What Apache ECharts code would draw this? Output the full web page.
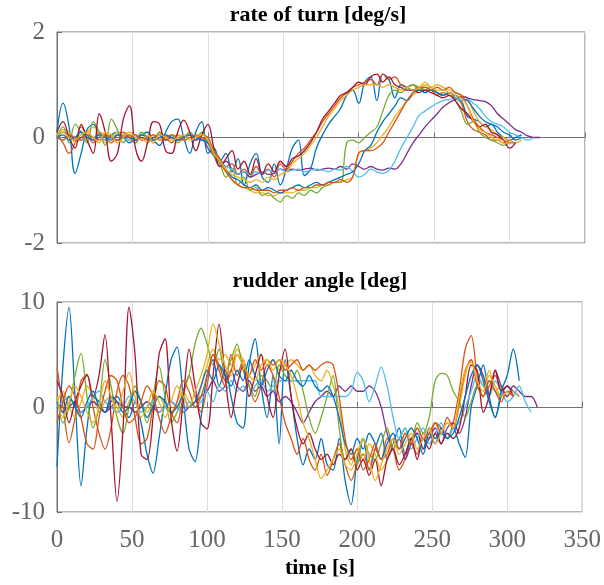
<!DOCTYPE html>
<html>
<head>
<meta charset="utf-8">
<script src="https://cdn.jsdelivr.net/npm/echarts@6/dist/echarts.min.js"></script>
<style>html,body{margin:0;padding:0;background:#fff;}#c{width:604px;height:585px;}</style>
</head>
<body>
<div id="c"></div>
<script>
// time samples [s]
const T = [0,4,8,12,16,20,24,28,32,36,40,44,48,52,56,60,64,68,72,76,80,84,88,92,96,100,104,108,112,116,120,124,128,132,136,140,144,148,152,156,160,164,168,172,176,180,184,188,192,196,200,204,208,212,216,220,224,228,232,236,240,244,248,252,256,260,264,268,272,276,280,284,288,292,296,300,304,308,312,316,320];
const xTicks = [0,50,100,150,200,250,300,350];
const rateTicks = [-2,0,2];
const rudderTicks = [-10,0,10];
const seriesColors = ['#0072BD','#D95319','#EDB120','#7E2F8E','#77AC30','#4DBEEE','#A2142F','#0072BD','#D95319','#EDB120'];

// rate of turn [deg/s]
const rot1 = [0.1,0.65,0.2,-0.68,-0.3,0.15,0.25,0.05,-0.05,0.05,0.1,0,-0.1,0,0.05,0.1,-0.05,-0.15,0.1,0.3,0.35,0,-0.3,0.1,0.3,-0.3,-0.2,-0.45,-0.3,-0.65,-0.4,-0.9,-0.5,-0.3,-0.75,-0.85,-0.5,-0.9,-0.6,-0.2,-0.05,-0.72,-0.6,-0.2,0.05,0.25,0.4,0.55,0.8,0.9,0.65,1.05,1.15,0.7,1.2,1.1,0.75,1.0,0.95,0.9,0.95,0.85,0.9,0.85,0.8,0.85,0.75,0.7,0.4,0.35,0.3,0.2,0.25,0.1,0.0,-0.05,0.0,0.05];
const rot2 = [0.05,-0.1,-0.3,-0.1,0.2,0.05,-0.1,0.1,0,-0.1,0.05,0.1,0,-0.1,0.05,0,-0.05,0.1,0,-0.1,0.05,0,0.05,-0.05,0.05,0,-0.25,-0.4,-0.55,-0.5,-0.7,-0.6,-0.75,-0.55,-0.7,-0.6,-0.75,-0.5,-0.6,-0.45,-0.3,-0.2,-0.05,0.1,0.3,0.45,0.6,0.75,0.85,0.95,1.0,1.05,1.1,1.0,1.2,1.1,1.15,1.0,0.95,1.0,0.9,0.95,0.9,0.8,0.85,0.8,0.75,0.65,0.3,0.15,0.1,0.05,-0.05,-0.05,-0.1,-0.05];
const rot3 = [0,0.15,0.1,-0.1,0,0.1,0.2,0.05,-0.1,0,0.1,0,-0.05,0.05,0,-0.1,0.05,0,-0.05,0,0.05,-0.05,0,0.05,0,-0.05,-0.3,-0.5,-0.65,-0.8,-0.9,-0.95,-1.0,-1.05,-1.05,-1.1,-1.1,-1.05,-1.05,-1.05,-1.0,-1.0,-0.95,-0.95,-0.9,-0.9,-0.85,-0.85,-0.8,-0.75,-0.3,-0.25,-0.2,-0.1,0.05,0.2,0.4,0.55,0.7,0.8,0.9,1.0,0.95,1.0,0.95,0.9,0.85,0.8,0.75,0.5,0.3,0.2,0.15,0.05,0,-0.05,-0.1,-0.05];
const rot4 = [0,0.1,0.05,-0.05,0,0.05,-0.05,0,0.05,0,-0.05,0,0.05,-0.05,0,-0.05,0,0.05,-0.05,0,-0.05,0,0.05,-0.05,0,-0.2,-0.35,-0.55,-0.45,-0.6,-0.7,-0.65,-0.75,-0.7,-0.65,-0.7,-0.68,-0.6,-0.62,-0.6,-0.62,-0.6,-0.58,-0.62,-0.6,-0.58,-0.6,-0.55,-0.6,-0.5,-0.55,-0.6,-0.55,-0.6,-0.62,-0.58,-0.6,-0.5,-0.3,-0.1,0.05,0.2,0.33,0.45,0.58,0.66,0.72,0.78,0.75,0.72,0.7,0.68,0.6,0.45,0.35,0.25,0.15,0.1,0.03,0,0];
const rot5 = [0,0.2,-0.1,0.25,0.1,-0.1,0.3,0.1,-0.15,0.35,0.15,-0.1,0.05,-0.05,0.1,0,-0.1,0.1,0,0.05,-0.1,0,0.1,0,0.1,-0.1,-0.35,-0.5,-0.75,-0.6,-0.9,-0.75,-1.0,-0.95,-1.1,-1.05,-1.15,-1.22,-1.1,-1.15,-1.05,-1.1,-1.0,-1.05,-0.95,-0.9,-0.85,-0.85,-0.1,-0.05,-0.1,0,0.1,0.2,0.5,0.8,0.9,0.85,0.95,1.0,0.95,0.9,0.95,0.85,0.8,0.85,0.7,0.5,0.25,0.3,0.1,0,-0.05,-0.1,-0.15,-0.1];
const rot6 = [0,-0.05,0.05,0,-0.05,0.05,0,0.05,-0.05,0,0.05,0,-0.05,0,0.05,0,-0.05,0,0.05,0,-0.05,0,0.05,0,-0.05,-0.1,-0.3,-0.45,-0.55,-0.6,-0.7,-0.65,-0.7,-0.65,-0.7,-0.62,-0.65,-0.6,-0.65,-0.62,-0.6,-0.65,-0.62,-0.6,-0.62,-0.65,-0.6,-0.62,-0.55,-0.65,-0.75,-0.7,-0.6,-0.65,-0.68,-0.62,-0.45,-0.2,0,0.2,0.42,0.5,0.58,0.65,0.7,0.72,0.75,0.7,0.72,0.65,0.55,0.4,0.3,0.25,0.2,0.1,0.05,0,-0.05,0];
const rot7 = [0.1,0.3,0,-0.2,0.25,-0.05,-0.3,0.45,0.1,-0.45,-0.3,0.35,0.6,-0.2,-0.45,-0.1,0.3,0.25,-0.25,-0.3,0.1,0.33,0.1,-0.25,0.05,0.25,-0.2,-0.55,-0.4,-0.25,-0.6,-0.45,-0.7,-0.4,-0.7,-0.5,-0.65,-0.45,-0.55,-0.4,-0.35,-0.25,-0.1,0.1,0.35,0.5,0.65,0.8,0.85,0.95,1.05,1.0,1.15,1.2,1.05,1.15,1.0,0.95,0.9,0.9,0.85,0.9,0.85,0.8,0.75,0.8,0.7,0.55,0.45,0.3,0.2,0.25,0.1,0.05,-0.05,-0.2,-0.1];
const rot8 = [0,0.05,-0.05,0,0.1,0,-0.05,0.05,0,-0.05,0.05,0,0,-0.05,0.05,0,-0.05,0,0.05,0,-0.05,0,0.05,0,-0.05,-0.1,-0.3,-0.45,-0.6,-0.75,-0.8,-0.9,-0.95,-0.9,-1.0,-0.95,-1.0,-1.05,-1.0,-0.95,-0.9,-0.95,-0.9,-0.85,-0.9,-0.85,-0.8,-0.75,-0.7,-0.65,-0.5,-0.25,-0.15,0.1,0.3,0.45,0.6,0.75,0.7,0.85,0.9,0.85,0.9,0.85,0.8,0.85,0.8,0.75,0.7,0.55,0.4,0.3,0.25,0.2,0.1,0.05,-0.05,0];
const rot9 = [0,-0.05,0.05,0,-0.05,0.05,0,-0.05,0.05,0,-0.05,0.05,0,0.05,-0.05,0,0.05,-0.05,0,0.05,0,-0.05,0,0.05,0,-0.05,-0.25,-0.45,-0.65,-0.8,-0.9,-0.95,-0.95,-1.0,-1.0,-1.0,-1.05,-1.0,-1.0,-0.95,-1.0,-0.95,-0.95,-0.9,-0.9,-0.85,-0.85,-0.8,-0.85,-0.75,-0.3,-0.25,-0.25,-0.2,-0.1,0.1,0.3,0.5,0.7,0.85,0.95,0.95,0.9,0.95,0.9,0.95,0.85,0.8,0.6,0.35,0.2,0.1,0.05,0,-0.05,-0.1,-0.1];
const rot10 = [0.05,0.1,0,-0.05,0.05,0.1,0,-0.1,0.1,0.05,-0.1,0,0.1,0,-0.05,0.05,-0.1,0.05,0,-0.05,0,0.05,-0.05,0,0.05,-0.05,-0.3,-0.45,-0.6,-0.7,-0.75,-0.8,-0.85,-0.8,-0.85,-0.75,-0.8,-0.7,-0.65,-0.5,-0.4,-0.3,-0.15,0,0.2,0.4,0.55,0.7,0.8,0.9,0.95,1.0,1.0,1.0,0.95,1.0,0.95,0.9,0.95,0.9,0.95,1.05,0.95,0.9,0.9,0.85,0.8,0.75,0.6,0.3,0.15,0.1,0,-0.05,-0.1,-0.1];

// rudder angle [deg]
const rud1 = [-5.7,4,9.5,1,-7.5,-2,1,0.5,-0.5,0.5,1,0,-1,0.5,-1.5,-4.5,-6.3,-3,1,4.5,5.7,1,-4,-5.2,-1,3,4.5,2,3.5,1,-1.5,-2,4,6.5,2,-1,3,-3.5,4.5,1,-3,-5.5,-4,-5,-3,-5.5,-6,-3,-7,-9.3,-5,-3,-6,-4,-2.5,-5,-3.5,-2,-4.5,-3,-2.5,-4,-2,-3,-2.5,-3,-2,-3.5,-4.8,0,2,4,1,-1,1,2,1.5,1];
const rud2 = [3.8,0,-3.4,-1,2.5,3,0,-2.5,-4,-2,1.5,3,2,-1,-3.5,-3,0,2.5,2,-0.5,-1.5,1,3,1,-0.5,2,5,4,2.5,5,3,4.5,2,0.5,2,4,3,1,-1.5,-3,-4.5,-3,-5,-6,-4.5,-6.5,-5,-3.5,-5.5,-7,-5.5,-4.5,-6,-4,-5,-3,-4,-6,-5,-3.5,-4.5,-2.5,-3,-1.5,-2,-3,-1.5,1.5,5.5,6.8,3,1,2,3,1.5,1];
const rud3 = [0.5,1.5,0,-1,0.5,2,1,-0.5,0.5,1,0,-1,0.5,1.5,0.5,-0.5,0.5,1,0,-0.5,0.5,1.5,0.5,0,2,4,5.5,4.5,5,4,5.5,4.5,3,4,5,4,4.5,3.5,4,4.5,4,3.5,4,3,2.5,3.5,2,0,-4,-5.5,-4,-5,-3.5,-4.5,-6,-5,-3.5,-4,-2.5,-3.5,-2,-3,-2.5,-1.5,-2.5,-1.5,-2,0,3,4.5,3,2,3.5,1.5,2,1,1.5,1];
const rud4 = [0.5,-0.5,0,0.5,-0.5,0,0.5,0,-0.5,0,0.5,0,0,-0.5,0,0.5,0,-0.5,0,0.5,0,-0.5,0,0.5,1,1.5,2.5,1.5,2,3.5,2,1.5,2.5,1.5,2,1,1.5,0.5,1,0.5,-0.5,-1.5,-0.5,0.5,1,1.5,1,2,1.5,2,1.5,1.5,2,1.5,0,-2.5,-4,-3,-5,-3.5,-2.5,-4,-3,-2,-3.5,-2,-1.5,-2.5,-1,2,4,3,1,3.5,2,1,2,1.5,1,1,0];
const rud5 = [1,-1.5,0,3,5.1,1,-2,0,4.5,2,-1,-2.5,0,2,0.5,-1.5,1,3.9,1,-1.5,-0.5,1.5,3,6,7.5,6,4,5.5,3,4.5,6,3.5,2,1,3,2.5,1.5,4,3,2.5,3.5,1.5,-1,-2.5,-1,1,3,-2,-5,-4,-5.5,-3,-4.5,-5,-3.5,-2,-4,-3,-2,-3.5,-1.5,-2.5,-1,2.5,3.2,3,1.5,0.5,-1,0.5,2,1,2.5,1.5,1,1.5];
const rud6 = [0,0.5,1,0,-0.5,0,1,1.5,0.5,0,-0.5,0,1,0.5,-0.5,0,0.5,-0.5,0,0.5,0,-0.5,0.5,0,0.5,1.5,0.5,2,1.5,2.5,1.5,2,1,2,2.5,1.5,2,2.5,2.5,2.5,2.5,2.5,2.5,2.5,1,1,1,1,1,1.5,3.3,2.5,0.5,2,3.8,2,-1,-3,-2,-4,-3,-2,-3.5,-2.5,-1.5,-3,-2,-1.5,0,1.5,3,2,1,2.5,1.5,0.5,1,2,0.5,-0.5];
const rud7 = [2.5,1,-1.5,0.5,2,3.1,1,3,6.9,-1,-9,-2,9.5,5,-4.5,-5,-1,5,6.5,-1,-4.2,0.5,5.5,2,-1.5,-2.1,3,7.9,3,-1,2,4,1,3,5,1,-1,3,5.5,1,-2,-3.5,-2.5,-4,-5,-4.5,-5.5,-4.5,-5,-4,-6,-5,-6.5,-5,-7.5,-5,-4,-5.5,-4.5,-3,-5,-3,-4,-2.5,-3.5,-2.5,-3,-2,1,4,3.5,-0.5,1,3.5,1.5,2,1];
const rud8 = [0.5,-0.5,1,0,-1,0.5,1.5,0,-0.5,1,0.5,-0.5,0,1.5,0.5,-1,0,1,0.5,-0.5,0,1,0,0.5,2,3.5,2.5,4,3,2,3.5,2.5,4.5,3,2,3.5,4.5,3,2.5,3.5,2.5,2,3,2,1.5,2,1,-1,-3.5,-4.5,-3,-4,-2.5,-3.5,-5,-3.5,-2.5,-4,-3,-2,-3,-4.5,-2.5,-3.5,-2,-3,-2.5,-1,1,3,4,2.5,0.5,-1,1.5,3,5.5,2.5];
const rud9 = [-1.5,0.5,2,1,-1,-3.5,-4,-1,1.5,3,2.5,0,-1.5,-1,0.5,2,1,-1,-2.5,-1,0.5,2.5,1.5,0,1,3,5,3.5,2,3.5,5,4,3,4.5,3.5,4.5,4,4.5,3.5,4,4.5,3.5,4,3.5,4,4.3,4,1,-3,-5,-4,-6,-5,-3.5,-5,-4.5,-3,-4,-2.5,-3.5,-2,-3,-2.5,-1.5,-2.5,-1,-2,0.5,3.5,4.5,2,1,2.5,1.5,0.5,1.5,1];
const rud10 = [1,-1,0.5,2,1,-0.5,-1.5,0,2.5,1,-0.5,1.5,3.3,1,-1,0,1.5,0.5,-1,0.5,2,1,0,1.5,3,5,7.9,6,4,3,5,4,3,2.5,4,4.5,3.5,4.5,4,3,1,-1.5,-3,-5,-6.8,-6,-5,-4,-5.5,-6,-4.5,-3,-5,-7,-5.5,-4,-3,-4.5,-3.5,-2.5,-4,-3,-2,-3.5,-2.5,-1.5,-2,1,3.5,4.3,2.5,1.5,3,2,1,1.5];

const rateData = [rot1,rot2,rot3,rot4,rot5,rot6,rot7,rot8,rot9,rot10];
const rudderData = [rud1,rud2,rud3,rud4,rud5,rud6,rud7,rud8,rud9,rud10];

const FONT = '"Liberation Serif", "Times New Roman", serif';
const labelStyle = {fontFamily: FONT, fontSize: 25, color: '#666666'};
const splitStyle = {show: true, lineStyle: {color: '#dedede', width: 1}};
const tickStyle = {show: true, inside: true, length: 5, lineStyle: {color: '#707070'}};
const lineAx = {show: true, lineStyle: {color: '#707070', width: 1}};

function mk(vals, k, g) {
  return {
    type: 'line', xAxisIndex: g, yAxisIndex: g,
    data: vals.map((v, i) => [T[i], v]),
    showSymbol: false, symbol: 'none', smooth: g === 0 ? 0.4 : 0.3,
    lineStyle: {width: 1.3, color: seriesColors[k]},
    itemStyle: {color: seriesColors[k]},
    animation: false, silent: true
  };
}
const series = [];
rateData.forEach((d, k) => series.push(mk(d, k, 0)));
rudderData.forEach((d, k) => series.push(mk(d, k, 1)));

const chart = echarts.init(document.getElementById('c'), null, {renderer: 'canvas'});
chart.setOption({
  backgroundColor: '#ffffff',
  animation: false,
  grid: [
    {left: 57, right: 19, top: 32, height: 211, show: true, borderColor: '#707070', borderWidth: 1, containLabel: false},
    {left: 57, right: 19, top: 302, height: 210, show: true, borderColor: '#707070', borderWidth: 1, containLabel: false}
  ],
  xAxis: [
    {gridIndex: 0, type: 'value', min: xTicks[0], max: xTicks[xTicks.length-1], interval: 50,
     axisLabel: {show: false}, axisLine: lineAx, axisTick: tickStyle, splitLine: splitStyle},
    {gridIndex: 1, type: 'value', min: xTicks[0], max: xTicks[xTicks.length-1], interval: 50,
     axisLabel: Object.assign({margin: 16}, labelStyle), axisLine: lineAx, axisTick: tickStyle, splitLine: splitStyle}
  ],
  yAxis: [
    {gridIndex: 0, type: 'value', min: rateTicks[0], max: rateTicks[rateTicks.length-1], interval: 2,
     axisLabel: Object.assign({margin: 12}, labelStyle), axisLine: lineAx, axisTick: tickStyle, splitLine: splitStyle},
    {gridIndex: 1, type: 'value', min: rudderTicks[0], max: rudderTicks[rudderTicks.length-1], interval: 10,
     axisLabel: Object.assign({margin: 12}, labelStyle), axisLine: lineAx, axisTick: tickStyle, splitLine: splitStyle}
  ],
  graphic: [
    {type: 'text', z: 100, style: {text: 'rate of turn [deg/s]', x: 318, y: 15, align: 'center', verticalAlign: 'middle', font: 'bold 22px ' + FONT, fill: '#000'}},
    {type: 'text', z: 100, style: {text: 'rudder angle [deg]', x: 320, y: 281, align: 'center', verticalAlign: 'middle', font: 'bold 22px ' + FONT, fill: '#000'}},
    {type: 'text', z: 100, style: {text: 'time [s]', x: 320, y: 568, align: 'center', verticalAlign: 'middle', font: 'bold 22px ' + FONT, fill: '#000'}}
  ],
  series: series
});
</script>
</body>
</html>
